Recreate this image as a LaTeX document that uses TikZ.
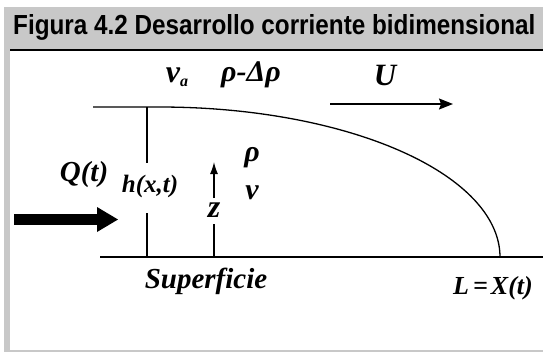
\documentclass[tikz,border=0pt]{standalone}
\usepackage{fontspec}
\setmainfont{Liberation Serif}
\newfontfamily\titlefont{Liberation Sans}
\usetikzlibrary{arrows.meta}
\definecolor{framegrey}{RGB}{200,200,200}
\tikzset{
  lbl/.style={inner sep=0pt, font=\fontsize{29}{31}\selectfont\bfseries\itshape},
  thinline/.style={line width=1.3pt, black},
}
\begin{document}
\begin{tikzpicture}[x=1pt,y=-1pt]
\useasboundingbox (0,0) rectangle (543,354);
% frame
\fill[framegrey] (4,7) rectangle (543,49);
\fill[framegrey] (4,7) rectangle (10,352);
\fill[framegrey] (4,350) rectangle (543,352);
\fill[black] (10,49) rectangle (543,51);
\node[inner sep=0pt, anchor=south west] (title) at (13,41)
  {\resizebox{522pt}{20pt}{\titlefont\bfseries Figura 4.2 Desarrollo corriente bidimensional}};
% surface and profile
\coordinate (gl) at (100,257);
\coordinate (gr) at (543,257);
\draw[thinline] (gl) -- (gr);
\coordinate (tl) at (93,107);
\coordinate (ts) at (160,107);
\draw[thinline, line join=round] (tl) -- (ts) -- plot[domain=-90:0, samples=80] ({160+340*cos(\x)},{257+150*sin(\x)});
% h(x,t)
\node[lbl, font=\fontsize{25}{27}\selectfont\bfseries\itshape] (h) at (150,186) {h(x,t)};
\coordinate (ht) at (147,107);
\coordinate (hm1) at (147,163);
\coordinate (hm2) at (147,213);
\coordinate (hb) at (147,257);
\draw[thinline] (ht) -- (hm1);
\draw[thinline] (hm2) -- (hb);
% Q(t) and thick arrow
\node[lbl] (Q) at (84,175) {Q(t)};
\fill[black] (14,214) rectangle (98,225);
\fill[black] (97,207) -- (118,219.5) -- (97,232) -- cycle;
% z arrow
\node[lbl, font=\fontsize{32}{34}\selectfont\bfseries\itshape] (z) at (214,210) {z};
\coordinate (zb) at (214,257);
\coordinate (zt) at (214,162);
\draw[thinline, -{Latex[length=12pt,width=8pt]}] (214,198) -- (zt);
\draw[thinline] (214,224) -- (zb);
% rho, v
\node[lbl, font=\fontsize{30}{32}\selectfont\bfseries\itshape] (rho) at (252,158) {ρ};
\node[lbl, font=\fontsize{30}{32}\selectfont\bfseries\itshape] (v) at (252,193) {v};
% top labels
\node[lbl, font=\fontsize{32}{34}\selectfont\bfseries\itshape, anchor=base] (va) at (177,82) {v\raisebox{-0.3ex}{\fontsize{16}{16}\selectfont a}};
\node[lbl, font=\fontsize{30}{32}\selectfont\bfseries\itshape] (rd) at (251,75) {ρ-Δρ};
\node[lbl, font=\fontsize{31}{33}\selectfont\bfseries\itshape] (U) at (385,75) {U};
\coordinate (ua) at (330,104);
\coordinate (ub) at (453,104);
\draw[thinline, -{Stealth[length=14pt,width=11pt,inset=2pt]}] (ua) -- (ub);
% bottom labels
\node[lbl] (sup) at (206,281) {Superficie};
\node[lbl, font=\fontsize{26}{28}\selectfont\bfseries\itshape] (L) at (493,288) {L\hspace{4pt}=\hspace{3pt}X(t)};
\end{tikzpicture}
\end{document}
